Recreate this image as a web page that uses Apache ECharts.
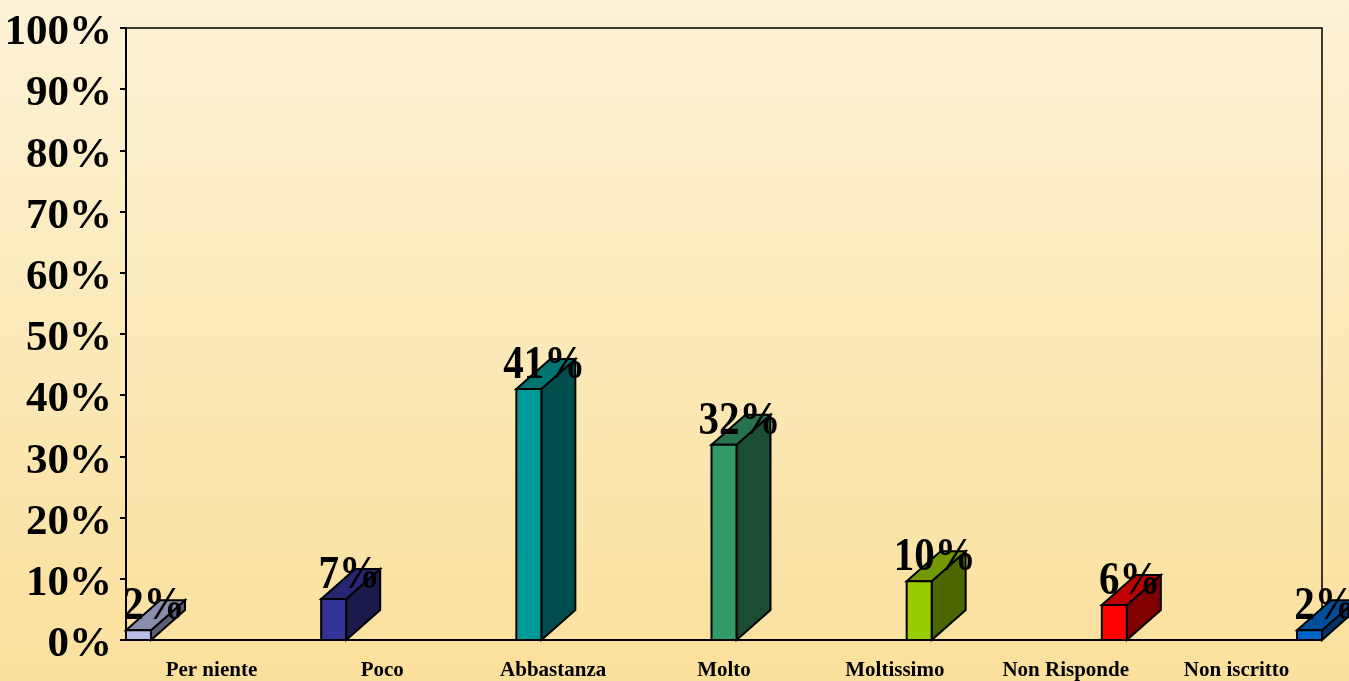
<!DOCTYPE html>
<html>
<head>
<meta charset="utf-8">
<style>html,body{margin:0;padding:0;background:#fbe09c}#c{width:1349px;height:681px}</style>
<script src="https://cdn.jsdelivr.net/npm/echarts@6/dist/echarts.min.js"></script>
</head>
<body>
<div id="c"></div>
<script>
const categories = ['Per niente','Poco','Abbastanza','Molto','Moltissimo','Non Risponde','Non iscritto'];
const values = [1.6,6.7,41,31.9,9.6,5.7,1.6];
const frontColors = ['#B8BEE6','#333399','#009999','#339966','#99CC00','#FF0000','#0066CC'];
const topColors = ['#8A8EAD','#262673','#007373','#26734D','#739900','#BF0000','#004D99'];
const sideColors = ['#5C5F73','#1A1A4D','#004D4D','#1A4D33','#4D6600','#800000','#003366'];
const FONT = '"Liberation Serif"';
const chart = echarts.init(document.getElementById('c'));
const W = 25, DX = 34, DY = 30;
chart.setOption({
  animation:false,
  backgroundColor:{type:'linear',x:0,y:0,x2:0,y2:1,colorStops:[{offset:0,color:'#FCF2D6'},{offset:1,color:'#FBE09C'}]},
  grid:{left:126,right:27,top:28,bottom:41,show:true,borderColor:'#000',borderWidth:1.5,backgroundColor:'transparent'},
  xAxis:[
    {type:'category',data:categories,boundaryGap:true,position:'bottom',
     axisLine:{show:true,lineStyle:{color:'#000',width:2}},axisTick:{show:false},
     axisLabel:{interval:0,color:'#000',fontFamily:FONT,fontWeight:'bold',fontSize:21,margin:20}},
    {type:'value',min:-0.064,max:6.064,show:false,splitLine:{show:false}}
  ],
  yAxis:{type:'value',min:0,max:100,interval:10,
    axisLine:{show:true,onZero:false,lineStyle:{color:'#000',width:2}},
    axisTick:{show:true,length:6,lineStyle:{color:'#000',width:2}},
    splitLine:{show:false},
    axisLabel:{color:'#000',fontFamily:FONT,fontWeight:'bold',fontSize:43,margin:14,verticalAlign:'top',lineHeight:10,showMinLabel:true,showMaxLabel:true,formatter:'{value}%'}},
  series:[{
    type:'custom',xAxisIndex:1,yAxisIndex:0,clip:false,z:5,
    data:values.map((v,i)=>[i,v]),
    renderItem(params,api){
      const i=api.value(0), v=api.value(1);
      const t=api.coord([i,v]), b=api.coord([i,0]);
      const l=t[0]-W/2, r=t[0]+W/2;
      const stroke={stroke:'#000',lineWidth:2,lineJoin:'miter'};
      return {type:'group',children:[
        {type:'polygon',shape:{points:[[r,t[1]],[r+DX,t[1]-DY],[r+DX,b[1]-DY],[r,b[1]]]},style:{fill:sideColors[i],...stroke}},
        {type:'polygon',shape:{points:[[l,t[1]],[l+DX,t[1]-DY],[r+DX,t[1]-DY],[r,t[1]]]},style:{fill:topColors[i],...stroke}},
        {type:'polygon',shape:{points:[[l,t[1]],[r,t[1]],[r,b[1]],[l,b[1]]]},style:{fill:frontColors[i],...stroke}},
        {type:'text',x:l+28,y:t[1]-23,scaleY:1.14,style:{text:Math.round(v)+'%',fill:'#000',font:'bold 41px '+FONT,textAlign:'center',textVerticalAlign:'middle'}}
      ]};
    }
  }]
});
</script>
</body>
</html>
